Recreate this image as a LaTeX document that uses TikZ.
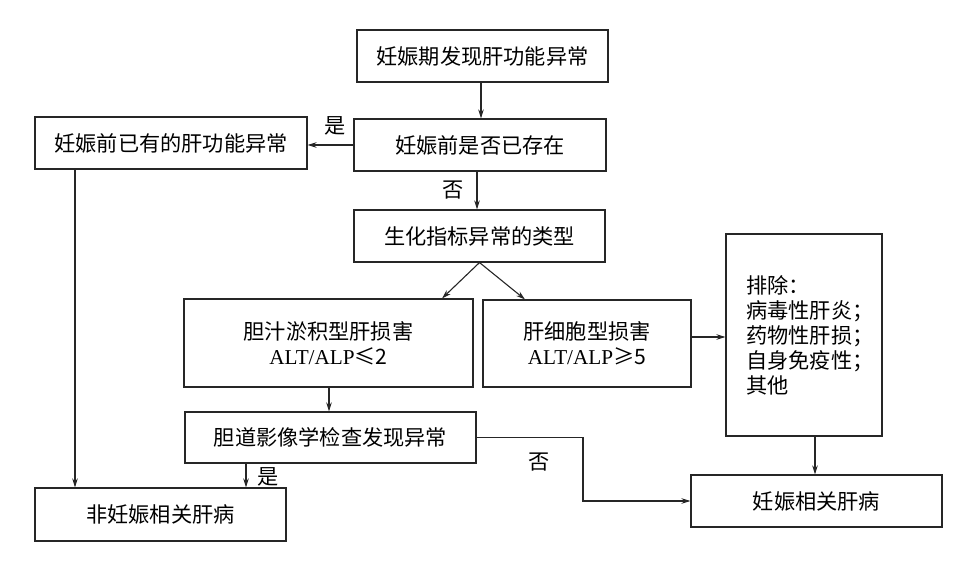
\documentclass[tikz,border=0pt]{standalone}
\usepackage{fontspec}
\setmainfont{Noto Sans CJK SC}
\newfontfamily\latfont{Liberation Serif}
\usetikzlibrary{arrows.meta,calc}
\begin{document}
\begin{tikzpicture}[x=1pt,y=-1pt,
  font=\fontsize{21.2}{25}\selectfont,
  box/.style={draw=black!85,line width=1.1pt,rectangle,inner sep=0pt,align=center},
  arr/.style={draw=black!85,line width=1.1pt,-{Stealth[length=9pt,width=5.5pt]}},
  ln/.style={draw=black!85,line width=1.1pt},
  lbl/.style={inner sep=0pt}]
\useasboundingbox (0,0) rectangle (968,569);
\node[box,minimum width=251pt,minimum height=52pt] (n1) at (482.5,56) {妊娠期发现肝功能异常};
\node[box,minimum width=252pt,minimum height=52pt] (n2) at (480,145) {妊娠前是否已存在};
\node[box,minimum width=272pt,minimum height=52pt] (n3) at (171,143) {妊娠前已有的肝功能异常};
\node[box,minimum width=251pt,minimum height=52pt] (n4) at (479.5,236) {生化指标异常的类型};
\node[box,minimum width=289pt,minimum height=88pt] (n5) at (328.5,343) {胆汁淤积型肝损害\\{\latfont ALT/ALP}≤2};
\node[box,minimum width=208pt,minimum height=87pt] (n6) at (587,343.5) {肝细胞型损害\\{\latfont ALT/ALP}≥5};
\node[box,minimum width=156pt,minimum height=202pt] (n7) at (804,335) {};
\node[lbl,anchor=west,align=left] (n7t) at (746,335) {排除：\\病毒性肝炎；\\药物性肝损；\\自身免疫性；\\其他};
\node[box,minimum width=291pt,minimum height=51pt] (n8) at (330.5,437.5) {胆道影像学检查发现异常};
\node[box,minimum width=251pt,minimum height=53pt] (n9) at (160.5,514.5) {非妊娠相关肝病};
\node[box,minimum width=251pt,minimum height=52pt] (n10) at (816.5,501) {妊娠相关肝病};
% connectors
\coordinate (c1) at (481,0);
\draw[arr] (c1 |- n1.south) -- (c1 |- n2.north);
\draw[arr] (n2.west) -- (n2.west -| n3.east);
\node[lbl] (l1) at (335,126) {是};
\coordinate (c2) at (477,0);
\draw[arr] (c2 |- n2.south) -- (c2 |- n4.north);
\node[lbl] (l2) at (453,190) {否};
\coordinate (c3) at (442,0);
\coordinate (c4) at (525,0);
\draw[arr] (n4.south) -- (c3 |- n5.north);
\draw[arr] (n4.south) -- (c4 |- n6.north);
\coordinate (c5) at (329,0);
\draw[arr] (c5 |- n5.south) -- (c5 |- n8.north);
\coordinate (c6) at (246,0);
\draw[arr] (c6 |- n8.south) -- (c6 |- n9.north);
\node[lbl] (l3) at (268,477) {是};
\coordinate (c7) at (75,0);
\draw[arr] (c7 |- n3.south) -- (c7 |- n9.north);
\coordinate (c8) at (583,0);
\draw[arr] (n8.east) -- (c8 |- n8.east) -- (c8 |- n10.west) -- (n10.west);
\node[lbl] (l4) at (539,462) {否};
\coordinate (c9) at (0,337);
\draw[arr] (c9 -| n6.east) -- (c9 -| n7.west);
\coordinate (c10) at (815,0);
\draw[arr] (c10 |- n7.south) -- (c10 |- n10.north);
\end{tikzpicture}
\end{document}
